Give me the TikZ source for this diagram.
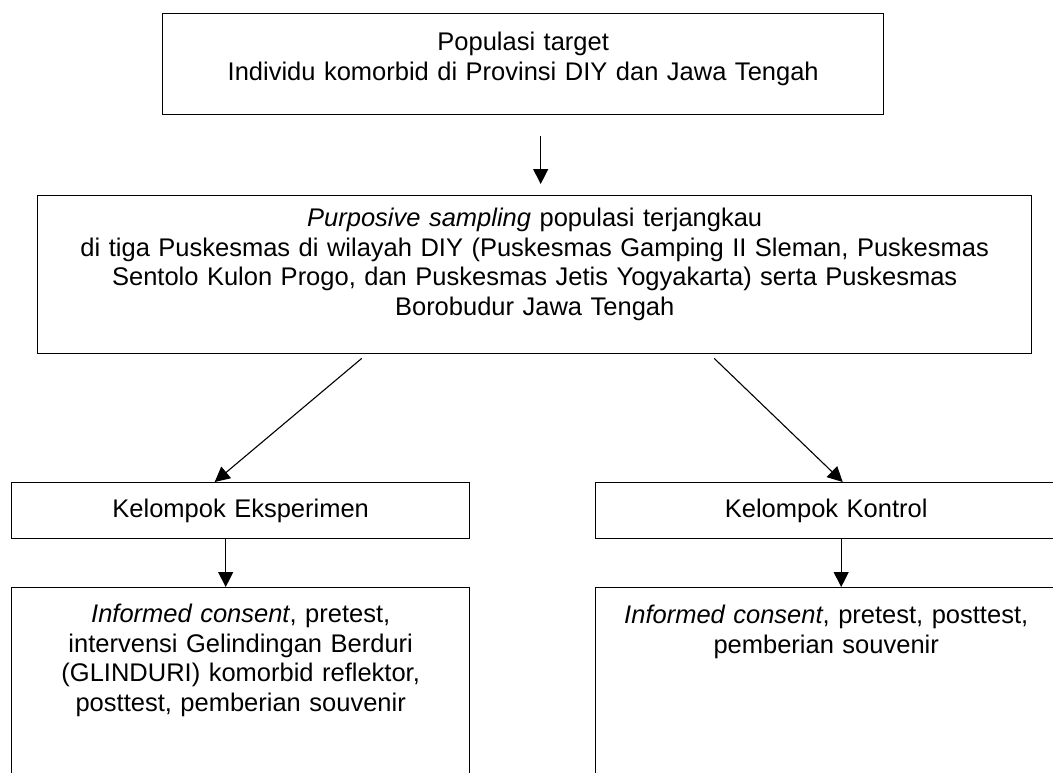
\documentclass[tikz,border=0pt]{standalone}
\usepackage{fontspec}
\setmainfont{Liberation Sans}
\usetikzlibrary{arrows.meta}

\begin{document}
\begin{tikzpicture}[x=0.5pt, y=-0.5pt,
  box/.style={draw, line width=0.7pt, inner sep=0pt, anchor=north west, align=center,
    font=\fontsize{12.75}{14.75}\selectfont},
  arr/.style={line width=0.55pt, -{Triangle[length=7.5pt, width=7.5pt]}}]
  \useasboundingbox (0,0) rectangle (1053,772);
  \clip (0,0) rectangle (1053,772);
  % boxes
  \node[box, text width=360.5pt, text height=18.5pt, text depth=32pt] (target) at (162,13)
    {Populasi target\\ Individu komorbid di Provinsi DIY dan Jawa Tengah};
  \node[box, text width=497pt, text height=15.5pt, text depth=63.5pt] (sampling) at (37,195)
    {\emph{Purposive sampling} populasi terjangkau\\
     di tiga Puskesmas di wilayah DIY (Puskesmas Gamping II Sleman, Puskesmas\\
     Sentolo Kulon Progo, dan Puskesmas Jetis Yogyakarta) serta Puskesmas\\
     Borobudur Jawa Tengah};
  \node[box, text width=229pt, text height=17.5pt, text depth=10.5pt] (eksperimen) at (11,482)
    {Kelompok Eksperimen};
  \node[box, text width=230.5pt, text height=17.5pt, text depth=10.5pt] (kontrol) at (595,482)
    {Kelompok Kontrol};
  \node[box, text width=229pt, text height=17.5pt, text depth=89pt] (perlakuan) at (11,587)
    {\emph{Informed consent}, pretest,\\ intervensi Gelindingan Berduri\\
     (GLINDURI) komorbid reflektor,\\ posttest, pemberian souvenir};
  \node[box, text width=230.5pt, text height=18pt, text depth=88.5pt] (kontrolisi) at (595,587)
    {\emph{Informed consent}, pretest, posttest,\\ pemberian souvenir};
  % arrows
  \draw[arr] ([xshift=8.75pt, yshift=-10.5pt]target.south)
    -- ([xshift=8.75pt, yshift=5.5pt]target.south |- sampling.north);
  \draw[arr] ([xshift=-86.5pt, yshift=-2pt]sampling.south) -- ([xshift=-13pt]eksperimen.north);
  \draw[arr] ([xshift=89.75pt, yshift=-2pt]sampling.south) -- ([xshift=8.25pt]kontrol.north);
  \draw[arr] ([xshift=-7.5pt]eksperimen.south) -- ([xshift=-7.5pt]eksperimen.south |- perlakuan.north);
  \draw[arr] ([xshift=7.5pt]kontrol.south) -- ([xshift=7.5pt]kontrol.south |- kontrolisi.north);
\end{tikzpicture}
\end{document}
